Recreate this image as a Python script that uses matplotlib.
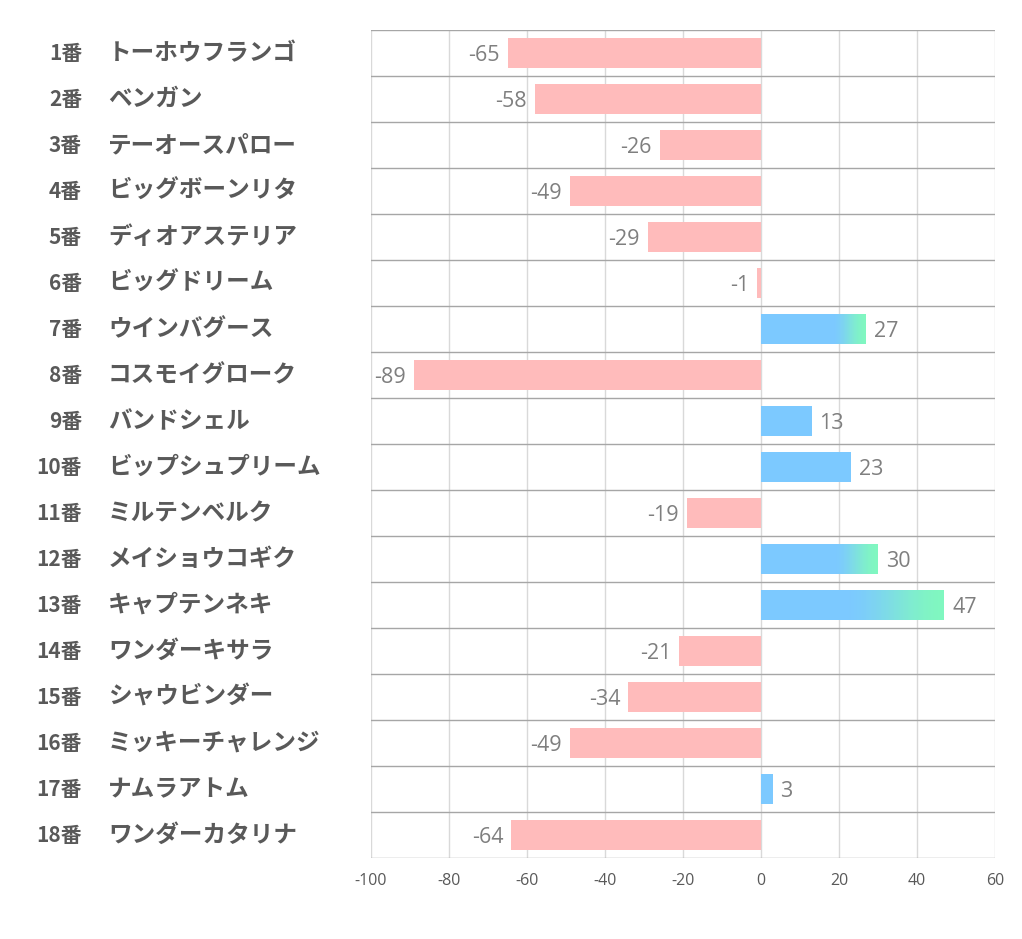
import matplotlib.pyplot as plt
import numpy as np
from matplotlib.colors import to_rgb

plt.rcParams['font.family'] = ['Noto Sans CJK JP', 'DejaVu Sans']

numbers = ["1番", "2番", "3番", "4番", "5番", "6番", "7番", "8番", "9番",
           "10番", "11番", "12番", "13番", "14番", "15番", "16番", "17番", "18番"]
horses = ["トーホウフランゴ", "ベンガン", "テーオースパロー", "ビッグボーンリタ",
          "ディオアステリア", "ビッグドリーム", "ウインバグース", "コスモイグローク",
          "バンドシェル", "ビップシュプリーム", "ミルテンベルク", "メイショウコギク",
          "キャプテンネキ", "ワンダーキサラ", "シャウビンダー", "ミッキーチャレンジ",
          "ナムラアトム", "ワンダーカタリナ"]
values = [-65, -58, -26, -49, -29, -1, 27, -89, 13, 23, -19, 30, 47, -21, -34, -49, 3, -64]
xticks = [-100, -80, -60, -40, -20, 0, 20, 40, 60]

pink = "#ffbbbb"
blue = "#7cc9ff"
green = "#80f7c0"

fig = plt.figure(figsize=(10.22, 9.39), dpi=100)
ax = fig.add_axes([371/1022, 1-858/939, 624/1022, 828/939])

h = 0.66
c0, c1 = np.array(to_rgb(blue)), np.array(to_rgb(green))
for i, v in enumerate(values):
    if v < 0:
        ax.barh(i, v, height=h, color=pink, zorder=2)
    elif v < 25:
        ax.barh(i, v, height=h, color=blue, zorder=2)
    else:
        # blue bar fading to green toward the end
        x0 = 18 + (v - 25) * 0.15
        edges = np.linspace(x0, v, 61)
        ax.barh(i, x0, height=h, color=blue, zorder=2, lw=0)
        for a, b in zip(edges[:-1], edges[1:]):
            t = ((a + b) / 2 - x0) / (v - x0)
            t = t * t * (3 - 2 * t)
            col = c0 * (1 - t) + c1 * t
            ax.barh(i, b - a + 0.05, left=a, height=h, color=col, zorder=2, lw=0)

for i, v in enumerate(values):
    if v < 0:
        ax.text(v - 2, i + 0.06, str(v), ha='right', va='center',
                fontsize=15.5, color='#7f7f7f', family=['Open Sans', 'DejaVu Sans'])
    else:
        ax.text(v + 2, i + 0.06, str(v), ha='left', va='center',
                fontsize=15.5, color='#7f7f7f', family=['Open Sans', 'DejaVu Sans'])

for i in range(len(values)):
    ax.text(-0.463, i, numbers[i], transform=ax.get_yaxis_transform(), ha='right',
            va='center', fontsize=15, fontweight='bold', color='#595959')
    ax.text(-0.4215, i, horses[i], transform=ax.get_yaxis_transform(), ha='left',
            va='center', fontsize=17, fontweight='bold', color='#595959')

for b in np.arange(-0.5, len(values), 1):
    ax.axhline(b, color='#a6a6a6', lw=1, zorder=1)
for xt in xticks:
    ax.axvline(xt, color='#d9d9d9', lw=1, zorder=0)

ax.set_xlim(-100, 60)
ax.set_ylim(len(values) - 0.5, -0.5)
ax.set_xticks(xticks)
ax.set_xticklabels([str(x) for x in xticks], fontsize=11.5, color='#595959',
                   family=['Open Sans', 'DejaVu Sans'])
ax.set_yticks([])
ax.tick_params(axis='x', length=0, pad=11)
for s in ax.spines.values():
    s.set_visible(False)

fig.savefig("out.png", dpi=100)
